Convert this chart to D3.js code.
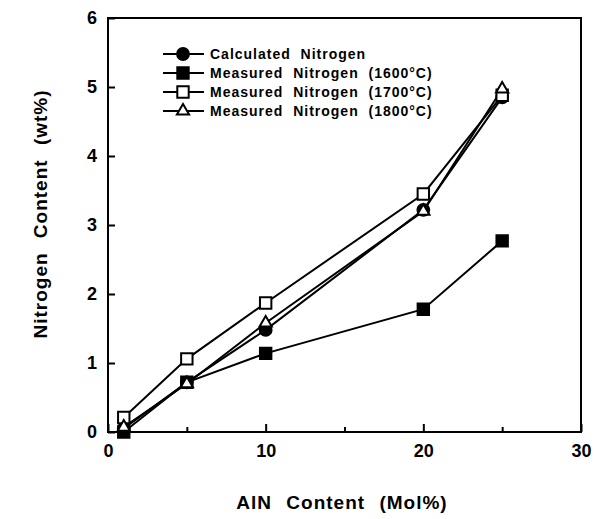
<!DOCTYPE html>
<html lang="en">
<head>
  <meta charset="UTF-8">
  <title>Nitrogen Content vs AlN Content</title>
  <style>
    body { margin: 0; background: #fff; }
    svg { font-family: "Liberation Sans", Arial, sans-serif; font-weight: bold; }
    .axis path, .axis line { stroke: #000; }
  </style>
</head>
<body>
  <div id="chart"></div>
  <script src="https://d3js.org/d3.v7.min.js"></script>
  <script>
    // data
    const alnContent = [1, 5, 10, 20, 25];
    const calculated = [0.05, 0.72, 1.48, 3.22, 4.85];
    const measured1600 = [0.0, 0.72, 1.14, 1.78, 2.77];
    const measured1700 = [0.21, 1.06, 1.87, 3.45, 4.88];
    const measured1800 = [0.07, 0.70, 1.58, 3.20, 4.97];
    const xTicks = [0, 10, 20, 30];
    const xMinorTicks = [5, 15, 25];
    const yTicks = [0, 1, 2, 3, 4, 5, 6];

    const series = [
      { name: 'Calculated  Nitrogen', values: calculated, marker: 'circle', fill: '#000' },
      { name: 'Measured  Nitrogen  (1600°C)', values: measured1600, marker: 'square', fill: '#000' },
      { name: 'Measured  Nitrogen  (1700°C)', values: measured1700, marker: 'square', fill: '#fff' },
      { name: 'Measured  Nitrogen  (1800°C)', values: measured1800, marker: 'triangle', fill: '#fff' }
    ];

    const width = 613, height = 519;
    const margin = { top: 18, right: 32, bottom: 87, left: 108 };
    const innerW = width - margin.left - margin.right;
    const innerH = height - margin.top - margin.bottom;

    const svg = d3.select('#chart').append('svg')
      .attr('width', width)
      .attr('height', height);

    const g = svg.append('g')
      .attr('transform', `translate(${margin.left},${margin.top})`);

    const x = d3.scaleLinear().domain([0, 30]).range([0, innerW]);
    const y = d3.scaleLinear().domain([0, 6]).range([innerH, 0]);

    // frame
    g.append('rect')
      .attr('width', innerW)
      .attr('height', innerH)
      .attr('fill', 'none')
      .attr('stroke', '#000')
      .attr('stroke-width', 2);

    // x axis (ticks pointing inwards)
    const xAxis = g.append('g')
      .attr('class', 'axis')
      .attr('transform', `translate(0,${innerH})`)
      .call(d3.axisBottom(x).tickValues(xTicks).tickFormat(d3.format('d'))
        .tickSizeInner(-8).tickSizeOuter(0).tickPadding(12));
    xAxis.select('.domain').remove();
    xAxis.selectAll('line').attr('stroke-width', 2);
    xAxis.selectAll('text').style('font-size', '18px').attr('font-weight', 'bold');

    g.append('g')
      .attr('class', 'axis')
      .attr('transform', `translate(0,${innerH})`)
      .call(d3.axisBottom(x).tickValues(xMinorTicks).tickSizeInner(-5).tickSizeOuter(0).tickFormat(''))
      .call(a => a.select('.domain').remove())
      .selectAll('line').attr('stroke-width', 2);

    // y axis
    const yAxis = g.append('g')
      .attr('class', 'axis')
      .call(d3.axisLeft(y).tickValues(yTicks).tickFormat(d3.format('d'))
        .tickSizeInner(-7).tickSizeOuter(0).tickPadding(11));
    yAxis.select('.domain').remove();
    yAxis.selectAll('line').attr('stroke-width', 2);
    yAxis.selectAll('text').style('font-size', '18px').attr('font-weight', 'bold');

    // axis titles
    svg.append('text')
      .attr('x', 342)
      .attr('y', 509)
      .attr('text-anchor', 'middle')
      .style('font-size', '19px')
      .style('letter-spacing', '1px')
      .style('word-spacing', '8px')
      .text('AlN Content (Mol%)');

    svg.append('text')
      .attr('transform', `translate(47,214) rotate(-90)`)
      .attr('text-anchor', 'middle')
      .style('font-size', '19px')
      .style('letter-spacing', '1px')
      .style('word-spacing', '8px')
      .text('Nitrogen Content (wt%)');

    const line = d3.line()
      .x((d, i) => x(alnContent[i]))
      .y(d => y(d));

    const sym = {
      circle: d3.symbol().type(d3.symbolCircle).size(110),
      square: d3.symbol().type(d3.symbolSquare).size(130),
      triangle: d3.symbol().type(d3.symbolTriangle).size(65)
    };

    function drawMarker(sel, s, cx, cy) {
      sel.append('path')
        .attr('d', sym[s.marker]())
        .attr('transform', `translate(${cx},${cy})`)
        .attr('fill', s.fill)
        .attr('stroke', '#000')
        .attr('stroke-width', 2);
    }

    series.forEach(s => {
      g.append('path')
        .datum(s.values)
        .attr('d', line)
        .attr('fill', 'none')
        .attr('stroke', '#000')
        .attr('stroke-width', 2);
    });

    series.forEach(s => {
      s.values.forEach((v, i) => drawMarker(g, s, x(alnContent[i]), y(v)));
    });

    // legend
    const legend = svg.append('g').attr('transform', 'translate(163,54)');
    series.forEach((s, i) => {
      const row = legend.append('g').attr('transform', `translate(0,${i * 19})`);
      row.append('line')
        .attr('x1', 0).attr('x2', 41)
        .attr('stroke', '#000').attr('stroke-width', 2);
      drawMarker(row, s, 20, 0);
      row.append('text')
        .attr('x', 47)
        .attr('dy', '0.36em')
        .style('font-size', '14px')
        .style('letter-spacing', '1px')
        .style('white-space', 'pre')
        .text(s.name);
    });
  </script>
</body>
</html>
